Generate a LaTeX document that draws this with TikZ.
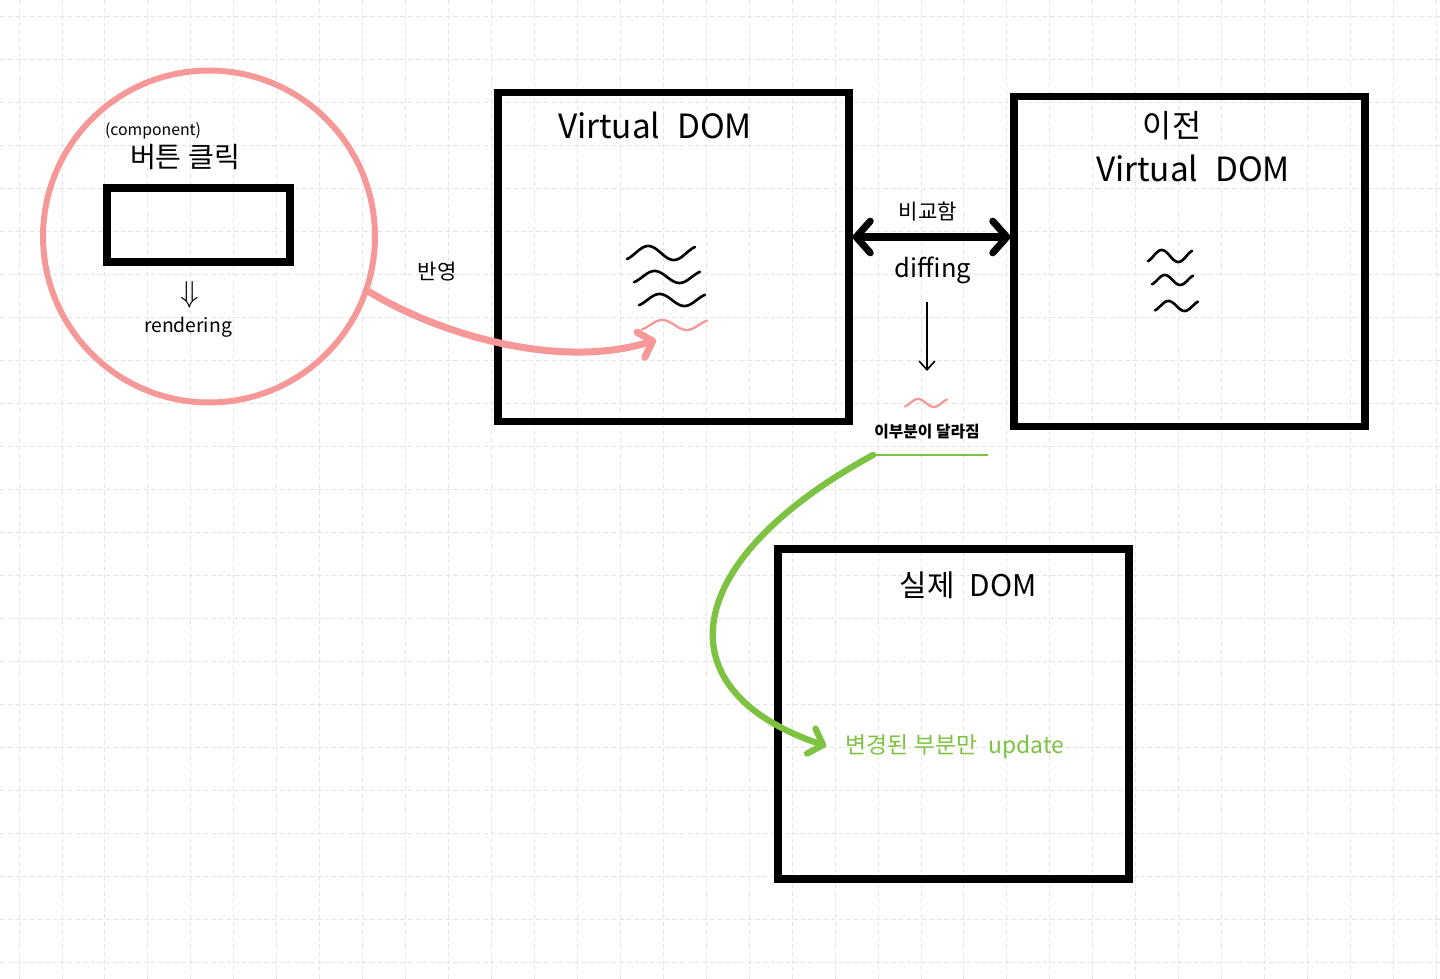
\documentclass[tikz,border=0pt]{standalone}
\usepackage{fontspec}
\setmainfont{Noto Sans CJK KR}
\usepackage{tikz}
\usetikzlibrary{arrows.meta,positioning}
\definecolor{salmon}{RGB}{247,152,152}
\definecolor{leaf}{RGB}{126,194,66}
\definecolor{gridgray}{RGB}{228,228,228}
\newcommand{\fsz}[1]{\fontsize{#1}{#1}\selectfont}
\newcommand{\squiggle}[5]{\draw[#1] plot[domain=-60:420,samples=50,smooth] ({#2+(\x+60)/480*#3},{#4-#5*sin(\x)});}
\begin{document}
\begin{tikzpicture}[x=0.02cm,y=-0.02cm,
          frame/.style={draw,line width=4.2pt,inner sep=0pt,
                        minimum width=7.02cm,minimum height=6.58cm},
          txt/.style={inner sep=0pt,font=\fsz{#1}},
          gridline/.style={gridgray,line width=0.5pt,dash pattern=on 2.5pt off 1.8pt},
          wave/.style={line width=1.5pt,line cap=round},
          both/.style={line width=4pt,line cap=round,
                       {Straight Barb[length=8pt,width=18pt,line cap=round,line join=round]}-{Straight Barb[length=8pt,width=18pt,line cap=round,line join=round]}},
          pinkarrow/.style={draw=salmon,line width=4pt,line cap=round,
                       -{Straight Barb[length=7pt,width=15pt,line cap=round,line join=round]}},
          greenarrow/.style={draw=leaf,line width=3.6pt,line cap=round,
                       -{Straight Barb[length=7pt,width=15pt,line cap=round,line join=round]}}]
        \useasboundingbox (0,0) rectangle (1440,979);
        \fill[white] (0,0) rectangle (1440,979);
        \foreach \i in {0,...,33}
          \draw[gridline] (19+42.95*\i,0) -- (19+42.95*\i,979);
        \foreach \j in {0,...,22}
          \draw[gridline] (0,16+43*\j) -- (1440,16+43*\j);

        \node[draw=salmon,circle,line width=3.4pt,minimum size=6.64cm,inner sep=0pt] (click) at (209,236.5) {};
        \node[draw,line width=4.5pt,minimum width=3.66cm,minimum height=1.48cm,inner sep=0pt] (button) at (198.5,225) {};
        \node[txt=9] (comp) at (153,131) {(component)};
        \node[txt=16] (clicklbl) at (185,157) {버튼 클릭};
        \node[txt=16] (down) at (190,295) {$\Downarrow$};
        \node[txt=11] (render) at (188,327) {rendering};
        \node[txt=12] (apply) at (437,272) {반영};

        \node[frame] (vdom) at (673.5,256.75) {};
        \node[txt=19] (vdomlbl) at (655,125) {Virtual\enspace DOM};
        \node[frame,minimum height=6.6cm] (prev) at (1189.5,261.5) {};
        \node[txt=18] (prevlbl) at (1172,126) {이전};
        \node[txt=19] (prevsub) at (1193,168) {Virtual\enspace DOM};
        \node[frame,minimum height=6.6cm] (real) at (953.5,714) {};
        \node[txt=17] (reallbl) at (968,585) {실제\enspace DOM};

        \node[txt=12] (cmplbl) at (928,212) {비교함};
        \node[txt=14.5] (difflbl) at (933,270) {diffing};
        \node[txt=9,font=\fsz{9}\bfseries] (changed) at (927,432) {이부분이 달라짐};
        \node[txt=13,text=leaf] (update) at (955,747) {변경된 부분만\enspace update};

        \squiggle{wave}{627}{68}{253}{7}
        \squiggle{wave}{634}{66}{277}{6}
        \squiggle{wave}{639}{66}{300}{6}
        \squiggle{wave,salmon,line width=1.3pt}{642}{65}{325}{5}
        \squiggle{wave}{1148}{44}{256}{6}
        \squiggle{wave}{1152}{41}{280}{5}
        \squiggle{wave}{1155}{43}{306}{5}
        \squiggle{wave,salmon,line width=1.3pt}{905}{42}{403}{4}

        \coordinate (cmp) at (930,237);
        \draw[both] (vdom.east |- cmp) -- (prev.west |- cmp);
        \coordinate (d1) at (927,302);
        \coordinate (d2) at (927,371);
        \draw[line width=0.9pt,-{Straight Barb[length=5pt,width=9pt]}] (d1) -- (d2);
        \coordinate (vtip) at (656,340);
        \draw[pinkarrow] (click.-19) .. controls (440,335) and (560,370) .. (vtip);
        \coordinate (ul1) at (873,455);
        \coordinate (ul2) at (988,455);
        \draw[leaf,line width=1.1pt] (ul1) -- (ul2);
        \coordinate (gtip) at (826,746);
        \draw[greenarrow] (ul1) .. controls (680,560) and (660,690) .. (gtip);
      \end{tikzpicture}
\end{document}
